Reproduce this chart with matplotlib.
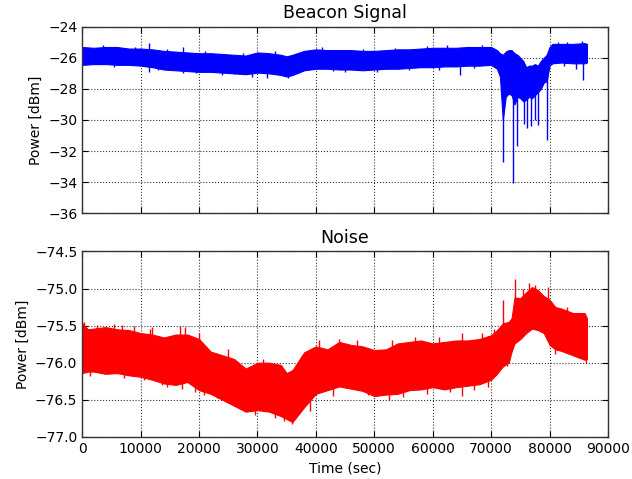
import matplotlib
matplotlib.use("Agg")
import matplotlib.pyplot as plt
import numpy as np

# ---------------- Beacon signal envelope (time [s], upper, lower) [dBm]
beacon_t = [0, 2000, 4000, 6000, 8000, 10000, 12000, 14000, 16000, 18000,
            20000, 22000, 24000, 26000, 28000, 30000, 32000, 34000, 35000, 36000,
            38000, 40000, 42000, 44000, 46000, 48000, 50000, 52000, 54000, 56000,
            58000, 60000, 62000, 64000, 66000, 68000, 70000, 71000, 71500, 72000,
            72500, 73000, 73500, 74000, 74500, 75000, 75500, 76000, 76500, 77000,
            77500, 78000, 78500, 79000, 79500, 80000, 80500, 82000, 84000, 86000,
            86400]
beacon_hi = [-25.3, -25.35, -25.3, -25.3, -25.4, -25.4, -25.45, -25.55, -25.6, -25.65,
             -25.7, -25.7, -25.75, -25.8, -25.85, -25.65, -25.7, -25.8, -25.9, -25.8,
             -25.55, -25.45, -25.5, -25.5, -25.5, -25.55, -25.55, -25.5, -25.45, -25.45,
             -25.4, -25.35, -25.35, -25.35, -25.3, -25.3, -25.3, -25.5, -25.7, -25.8,
             -25.6, -25.5, -25.5, -25.7, -25.8, -26.0, -26.2, -26.6, -26.5, -26.5,
             -26.4, -26.5, -26.2, -26.0, -25.8, -25.3, -25.1, -25.1, -25.1, -25.05,
             -25.1]
beacon_lo = [-26.45, -26.4, -26.4, -26.45, -26.45, -26.5, -26.6, -26.75, -26.8, -26.85,
             -26.9, -26.9, -26.95, -27.0, -27.05, -26.95, -27.0, -27.1, -27.2, -27.1,
             -26.8, -26.7, -26.7, -26.75, -26.75, -26.8, -26.75, -26.7, -26.7, -26.65,
             -26.6, -26.6, -26.55, -26.55, -26.5, -26.5, -26.45, -26.7, -27.2, -30.0,
             -28.5, -28.3, -28.4, -29.0, -28.5, -28.6, -28.8, -28.7, -28.5, -28.6,
             -28.4, -28.2, -28.0, -27.6, -27.5, -26.5, -26.35, -26.3, -26.35, -26.35,
             -26.3]
# isolated excursions of the beacon trace (time, extreme value)
beacon_spike_t = [11500, 11500, 17200, 17300, 26000, 31700, 35200, 45000, 64700,
                  72000, 73800, 74500, 75600, 76100, 76800, 77500, 78100, 79600,
                  84500, 85500, 85800,
                  3500, 9000, 14500, 21000, 27500, 33000, 41000, 48000, 53500, 59000,
                  62500, 68500, 81500, 83000,
                  5500, 13000, 19500, 24000, 29000, 37000, 43000, 50500, 56000, 61000,
                  67000, 82500]
beacon_spike_v = [-25.05, -26.9, -25.3, -27.0, -27.05, -27.3, -27.3, -26.9, -27.1,
                  -32.7, -34.05, -31.65, -30.25, -30.5, -30.4, -30.0, -30.3, -31.3,
                  -26.7, -24.9, -27.4,
                  -25.2, -25.3, -25.4, -25.55, -25.7, -25.55, -25.3, -25.4, -25.35, -25.25,
                  -25.2, -25.15, -24.95, -25.0,
                  -26.6, -26.8, -27.0, -27.1, -27.2, -27.0, -26.85, -26.9, -26.8, -26.75,
                  -26.65, -26.5]

# ---------------- Noise envelope (time [s], upper, lower) [dBm]
noise_t = [0, 1000, 2000, 4000, 6000, 8000, 10000, 12000, 14000, 16000,
           18000, 20000, 22000, 24000, 26000, 28000, 30000, 32000, 34000, 35000,
           36000, 37000, 38000, 40000, 42000, 44000, 46000, 48000, 50000, 52000,
           54000, 56000, 58000, 60000, 62000, 64000, 66000, 68000, 70000, 71000,
           72000, 73000, 73500, 74000, 75000, 76000, 77000, 78000, 79000, 80000,
           81000, 82000, 84000, 86000, 86400]
noise_hi = [-75.47, -75.55, -75.54, -75.52, -75.55, -75.56, -75.6, -75.62, -75.66, -75.62,
            -75.62, -75.68, -75.85, -75.9, -75.95, -76.08, -76.0, -76.0, -76.03, -76.14,
            -76.1, -75.98, -75.86, -75.78, -75.82, -75.72, -75.76, -75.78, -75.83, -75.82,
            -75.74, -75.72, -75.7, -75.74, -75.72, -75.7, -75.7, -75.68, -75.63, -75.56,
            -75.47, -75.45, -75.4, -75.12, -75.13, -75.05, -74.98, -75.02, -75.1, -75.15,
            -75.25, -75.27, -75.33, -75.33, -75.4]
noise_lo = [-76.14, -76.12, -76.12, -76.15, -76.14, -76.17, -76.19, -76.23, -76.28, -76.3,
            -76.26, -76.37, -76.42, -76.5, -76.58, -76.66, -76.64, -76.66, -76.72, -76.76,
            -76.8, -76.7, -76.6, -76.42, -76.37, -76.32, -76.35, -76.38, -76.45, -76.43,
            -76.42, -76.37, -76.36, -76.33, -76.36, -76.33, -76.31, -76.29, -76.23, -76.15,
            -76.05, -76.0, -75.85, -75.74, -75.68, -75.6, -75.54, -75.56, -75.6, -75.76,
            -75.82, -75.84, -75.9, -75.96, -75.95]
noise_spike_t = [300, 12000, 17600, 20000, 44000, 57000, 65000, 72000, 74000,
                 76500, 77500, 79800, 85800, 34500, 36000, 52500, 65000,
                 2500, 5400, 6800, 8800, 11600, 16800, 25000, 31000, 40500, 47000,
                 53000, 61000, 68500, 70500, 75500, 83000,
                 1400, 7100, 10500, 13600, 14500, 17100, 19300, 20800, 23000, 27000,
                 29500, 33000, 39000, 43000, 49000, 55000, 59000, 63000, 67000, 69500,
                 72800, 81000, 86200]
noise_spike_v = [-75.45, -75.52, -75.52, -75.6, -75.68, -75.65, -75.6, -75.15, -74.87,
                 -74.93, -74.95, -74.98, -75.33, -76.78, -76.82, -76.5, -76.45,
                 -75.49, -75.48, -75.49, -75.51, -75.54, -75.51, -75.82, -75.95, -75.7, -75.7,
                 -75.7, -75.65, -75.6, -75.55, -75.0, -75.25,
                 -76.18, -76.2, -76.24, -76.3, -76.33, -76.36, -76.4, -76.44, -76.48, -76.62,
                 -76.7, -76.74, -76.65, -76.45, -76.44, -76.46, -76.42, -76.4, -76.37, -76.33,
                 -76.05, -75.88, -76.0]

# ---------------- axis settings
x_ticks = [0, 10000, 20000, 30000, 40000, 50000, 60000, 70000, 80000, 90000]
beacon_yticks = [-36, -34, -32, -30, -28, -26, -24]
noise_yticks = [-77.0, -76.5, -76.0, -75.5, -75.0, -74.5]


def draw(ax, t, hi, lo, st, sv, color):
    t = np.asarray(t, float)
    hi = np.asarray(hi, float)
    lo = np.asarray(lo, float)
    ax.fill_between(t, lo, hi, facecolor=color, edgecolor=color, linewidth=0.8)
    st = np.asarray(st, float)
    sv = np.asarray(sv, float)
    mid = (np.interp(st, t, hi) + np.interp(st, t, lo)) / 2.0
    ax.vlines(st, mid, sv, colors=color, linewidth=1.0)


fig = plt.figure(figsize=(6.32, 4.79), dpi=100, facecolor="white")
ax1 = fig.add_axes([0.13, 0.555, 0.832, 0.389])
ax2 = fig.add_axes([0.13, 0.088, 0.832, 0.387], sharex=ax1)

draw(ax1, beacon_t, beacon_hi, beacon_lo, beacon_spike_t, beacon_spike_v, "#0000ff")
draw(ax2, noise_t, noise_hi, noise_lo, noise_spike_t, noise_spike_v, "#ff0000")

ax1.set_ylim(-36, -24)
ax1.set_yticks(beacon_yticks)
ax2.set_ylim(-77, -74.5)
ax2.set_yticks(noise_yticks)
ax2.set_yticklabels([f"{v:.1f}".replace("-", "\u2212") for v in noise_yticks])
ax2.set_xlim(0, 90000)
ax2.set_xticks(x_ticks)

ax1.set_title("Beacon Signal", fontsize=12.5)
ax2.set_title("Noise", fontsize=12.5)
ax1.set_ylabel("Power [dBm]", fontsize=10)
ax2.set_ylabel("Power [dBm]", fontsize=10)
ax2.set_xlabel("Time (sec)", fontsize=10)

for ax in (ax1, ax2):
    ax.grid(True, linestyle=":", color="black", linewidth=0.8, alpha=0.8)
    ax.set_axisbelow(True)
    ax.tick_params(direction="in", top=True, right=True, labelsize=10, length=4)
    for s in ax.spines.values():
        s.set_color("#333333")
        s.set_linewidth(1.0)
plt.setp(ax1.get_xticklabels(), visible=False)

fig.savefig("out.png", dpi=100, facecolor="white")
